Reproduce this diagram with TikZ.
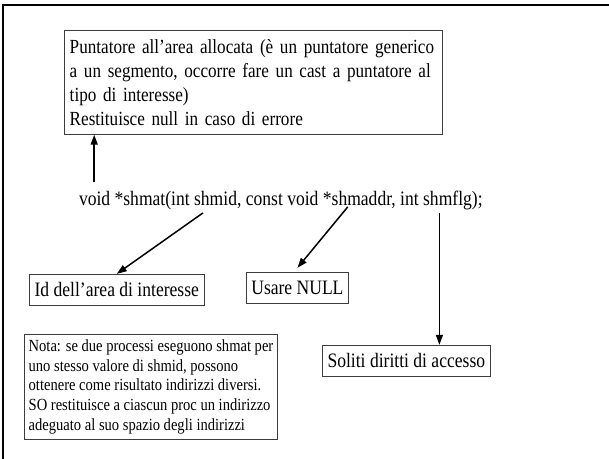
\documentclass[tikz,border=0pt]{standalone}
\usepackage{fontspec}
\setmainfont{Liberation Serif}[FakeStretch=0.857]
\usepackage{tikz}
\usetikzlibrary{arrows.meta,positioning,calc}
\definecolor{boxgray}{RGB}{60,60,60}
\tikzset{
    slideframe/.style={line width=2pt, black},
    retbox/.style={rectangle, draw=boxgray, line width=0.8pt, anchor=north west, text width=367.5pt, minimum height=104pt, inner xsep=5.1pt, inner ysep=6pt, align=left, font=\fontsize{20}{24}\selectfont},
    argbox/.style={rectangle, draw=boxgray, line width=0.8pt, anchor=north west, inner xsep=5.1pt, minimum height=31pt, font=\fontsize{20.5}{24}\selectfont},
    notebox/.style={rectangle, draw=boxgray, line width=0.8pt, anchor=north west, inner xsep=4.3pt, inner ysep=5pt, align=left, font=\fontsize{17}{20}\selectfont},
    arr/.style={line width=1.5pt, -{Triangle[length=10pt,width=7pt]}},
}

\begin{document}
\begin{tikzpicture}[x=0.857pt, y=-1pt]
    \useasboundingbox (0,0) rectangle (711,459);
    % Slide frame
    \draw[slideframe] (711,5) -- (4,5) -- (4,459);

    % Return value
    \node[retbox] (ret) at (75,30) {Puntatore all'area allocata (è un puntatore generico\\
        a un segmento, occorre fare un cast a puntatore al\\
        tipo di interesse)\\
        Restituisce null in caso di errore};

    % Prototype
    \node[anchor=base west, inner sep=0pt, font=\fontsize{20.5}{24}\selectfont] (call) at (92,206)
        {void *shmat(int shmid, const void *shmaddr, int shmflg);};
    \coordinate (pret) at (110,182);
    \coordinate (pid) at (237,213);
    \coordinate (paddr) at (406,207);
    \coordinate (pflg) at (513,213);

    % Arguments
    \node[argbox] (idbox) at (34,274) {Id dell'area di interesse};
    \node[argbox] (nullbox) at (287,272) {Usare NULL};
    \node[argbox] (flgbox) at (376,345) {Soliti diritti di accesso};

    \node[notebox] (nota) at (28,334) {Nota: se due processi eseguono shmat per\\
        uno stesso valore di shmid, possono\\
        ottenere come risultato indirizzi diversi.\\
        SO restituisce a ciascun proc un indirizzo\\
        adeguato al suo spazio degli indirizzi};

    \draw[arr] (pret) -- (pret |- ret.south);
    \draw[arr] (pid) -- (idbox.north);
    \draw[arr] (paddr) -- ([yshift=4pt]nullbox.north);
    \draw[arr] (pflg) -- (pflg |- flgbox.north);
\end{tikzpicture}
\end{document}
